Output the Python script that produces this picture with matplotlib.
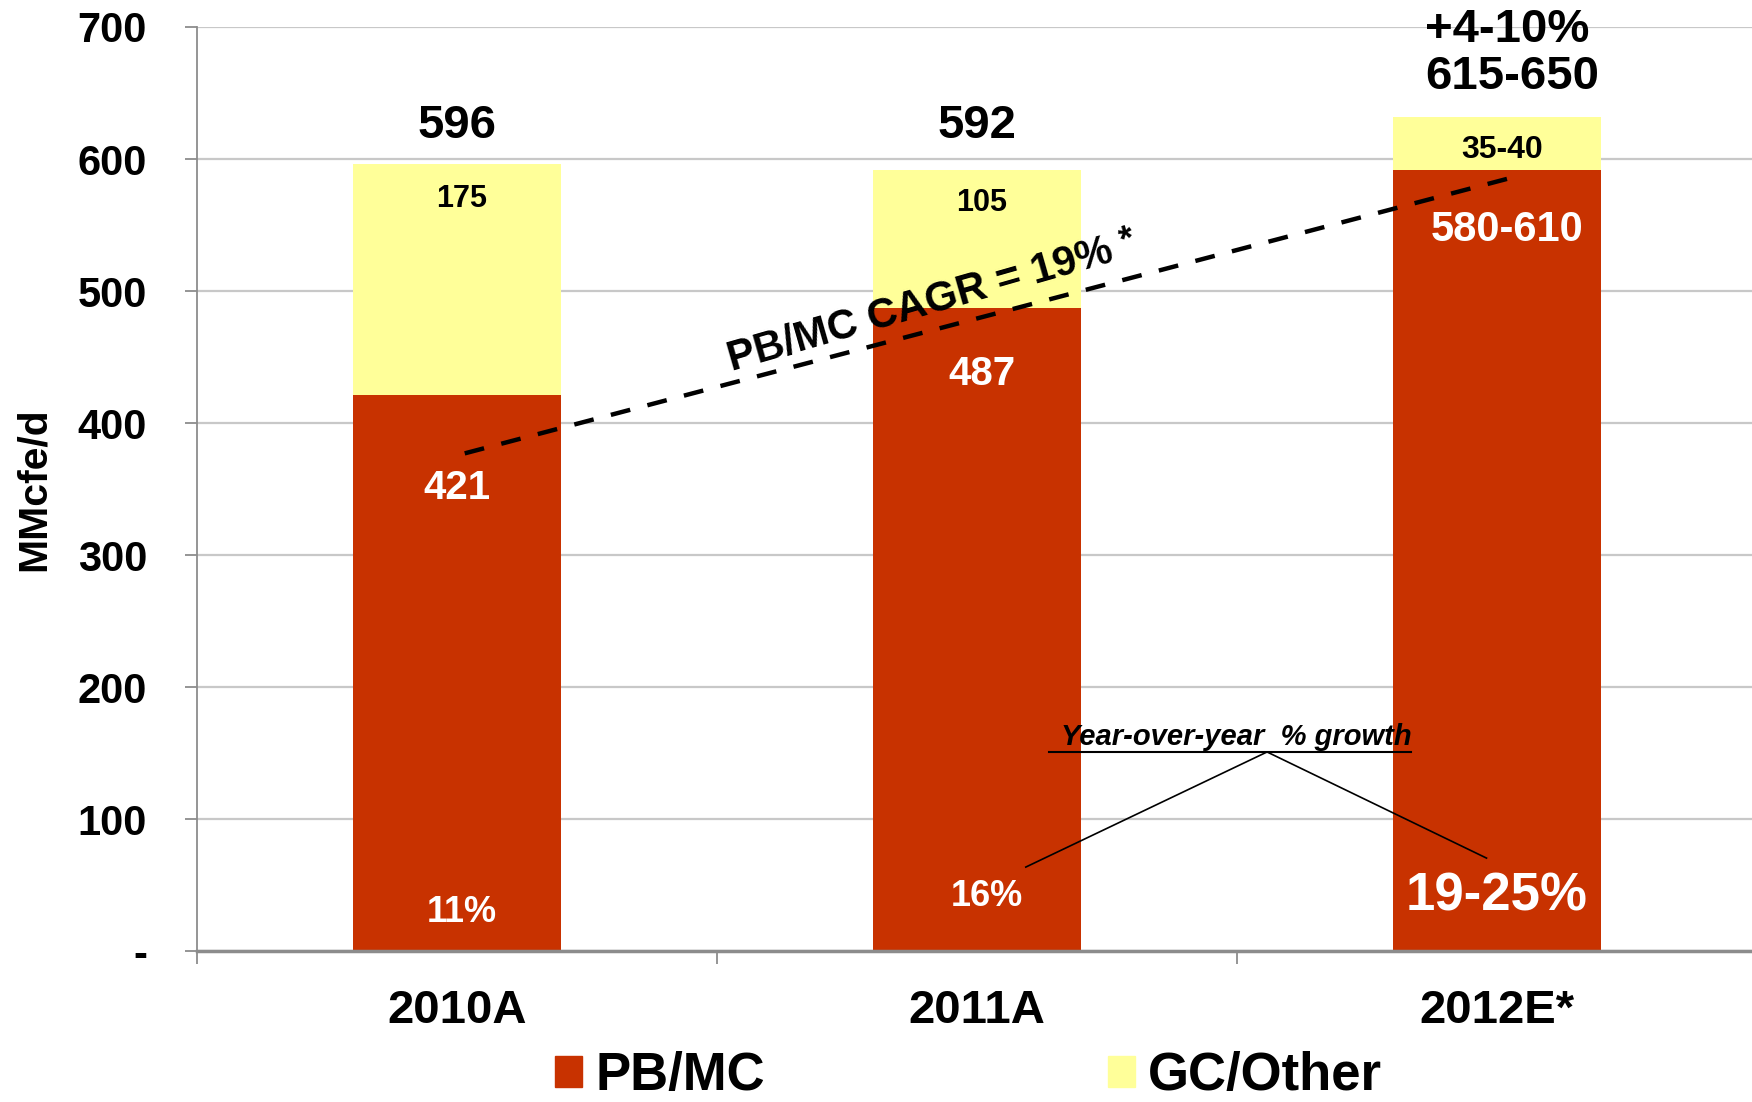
import numpy as np
import matplotlib
matplotlib.use("Agg")
import matplotlib.pyplot as plt
from matplotlib.patches import Patch

# data (MMcfe/d)
years = ["2010A", "2011A", "2012E*"]
pbmc = [421, 487, 592]          # 2012E is the 580-610 range
gc_other = [175, 105, 40]       # 2012E is the 35-40 range
pbmc_labels = ["421", "487", "580-610"]
gc_labels = ["175", "105", "35-40"]
total_labels = ["596", "592", "615-650"]
growth_labels = ["11%", "16%", "19-25%"]
cagr_start = (0.015, 377)
cagr_end = (2.02, 585)

RED = "#C83200"
YELLOW = "#FFFF99"
GRAY = "#8C8C8C"

plt.rcParams["font.family"] = ["Liberation Sans", "DejaVu Sans"]
plt.rcParams["font.weight"] = "bold"

fig = plt.figure(figsize=(17.52, 11.02), dpi=100)
ax = fig.add_axes([0.1124, 0.137, 0.8904, 0.8385])

x = np.arange(len(years))
ax.bar(x, pbmc, width=0.4, color=RED, zorder=3)
ax.bar(x, gc_other, width=0.4, bottom=pbmc, color=YELLOW, zorder=3)

ax.set_xlim(-0.5, 2.5)
ax.set_ylim(0, 700)

# grid + axes styling
ax.set_yticks(range(0, 701, 100))
ax.set_yticklabels(["-"] + [str(v) for v in range(100, 701, 100)])
ax.yaxis.grid(True, color="#C8C8C8", lw=1.6, zorder=0)
for s in ["top", "right"]:
    ax.spines[s].set_visible(False)
ax.spines["left"].set_color(GRAY)
ax.spines["left"].set_linewidth(1.3)
ax.spines["bottom"].set_color(GRAY)
ax.spines["bottom"].set_linewidth(2.5)
ax.spines["bottom"].set_zorder(4)
ax.tick_params(axis="y", labelsize=30, pad=27, length=9, width=1.3, color=GRAY)

ax.set_xticks(x)
ax.set_xticklabels(years)
ax.set_xticks([-0.5, 0.5, 1.5, 2.5], minor=True)
ax.tick_params(axis="x", which="major", length=0, labelsize=34, pad=27)
ax.tick_params(axis="x", which="minor", length=9, width=1.3, color=GRAY)

fig.text(33.5 / 1752, 1 - 489 / 1102, "MMcfe/d", rotation=90,
         ha="center", va="center", fontsize=29.5)

# totals above bars
tot = [p + g for p, g in zip(pbmc, gc_other)]
ax.text(0, tot[0] + 29, total_labels[0], ha="center", va="center", fontsize=34)
ax.text(1, tot[1] + 33, total_labels[1], ha="center", va="center", fontsize=34)
ax.text(2.03, 662, total_labels[2], ha="center", va="center", fontsize=34, clip_on=False)
ax.text(2.02, 698, "+4-10%", ha="center", va="center", fontsize=34, clip_on=False)

# segment labels
gc_y = [570, 567, 607]
gc_x = [0.01, 1.01, 2.01]
gc_fs = [22, 22, 23]
for i in range(3):
    ax.text(gc_x[i], gc_y[i], gc_labels[i], ha="center", va="center",
            fontsize=gc_fs[i], zorder=5)

pb_y = [351, 437.5, 546.5]
pb_x = [0, 1.01, 2.02]
pb_fs = [29, 29, 30]
for i in range(3):
    ax.text(pb_x[i], pb_y[i], pbmc_labels[i], ha="center", va="center",
            fontsize=pb_fs[i], color="white", zorder=5)

gr_y = [29, 41.5, 41.5]
gr_x = [0.01, 1.02, 2.0]
gr_fs = [26, 26, 38]
for i in range(3):
    ax.text(gr_x[i], gr_y[i], growth_labels[i], ha="center", va="center",
            fontsize=gr_fs[i], color="white", zorder=5)

# CAGR dashed line
ln, = ax.plot([cagr_start[0], cagr_end[0]], [cagr_start[1], cagr_end[1]],
              color="black", lw=3.2, zorder=6)
ln.set_dashes((4.5, 4.0))
ax.text(0.892, 489, "PB/MC CAGR = 19%", rotation=16, ha="center", va="center",
        rotation_mode="anchor", fontsize=30, zorder=7)
ax.text(1.29, 538, "*", rotation=16, ha="center", va="center",
        rotation_mode="anchor", fontsize=26, zorder=7)

# year-over-year callout
ax.text(1.498, 161.8, "Year-over-year  % growth", ha="center", va="center",
        fontsize=21, style="italic", zorder=7)
ax.plot([1.138, 1.835], [150.8, 150.8], color="black", lw=1.5, zorder=7)
ax.plot([1.094, 1.558, 1.98], [63.6, 150.8, 70.4], color="black", lw=1.2, zorder=7)

# legend
handles = [Patch(color=RED), Patch(color=YELLOW)]
fig.legend(handles, ["PB/MC", "GC/Other"], loc="center", ncol=2,
           bbox_to_anchor=(0.553, 0.0236), frameon=False, fontsize=38,
           handlelength=0.51, handleheight=0.53, handletextpad=0.25,
           columnspacing=6.5, borderpad=0)

fig.savefig("out.png", dpi=100)
